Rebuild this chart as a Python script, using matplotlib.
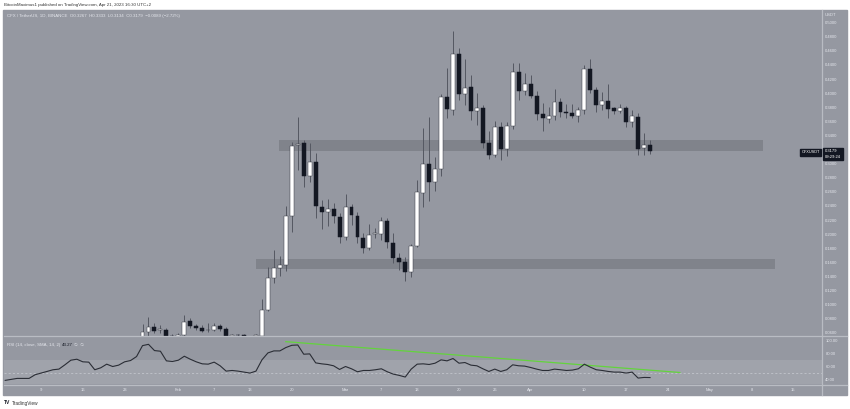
import matplotlib
matplotlib.use('Agg')
import matplotlib.pyplot as plt
import numpy as np
from matplotlib.patches import Rectangle
from matplotlib.lines import Line2D

plt.rcParams['font.family'] = ['Liberation Sans', 'DejaVu Sans']

# ---------------- data (day index: 0 = Jan 1, 2023) ----------------
days = list(range(25, 111))
opens = [0.0530, 0.0609, 0.0688, 0.0640, 0.0641, 0.0556, 0.0540, 0.0570, 0.0769, 0.0698,
         0.0674, 0.0638, 0.0641, 0.0702, 0.0651, 0.0560, 0.0572, 0.0570, 0.0540, 0.0550,
         0.0560, 0.0925, 0.1375, 0.1525, 0.1563, 0.2263, 0.3265, 0.3289, 0.2826, 0.3028,
         0.2390, 0.2311, 0.2358, 0.2248, 0.1956, 0.2390, 0.2263, 0.1950, 0.1800, 0.2005,
         0.1999, 0.2192, 0.1880, 0.1658, 0.1602, 0.1468, 0.1833, 0.2589, 0.2996, 0.2736,
         0.2925, 0.3950, 0.3763, 0.4552, 0.3988, 0.4084, 0.3748, 0.3786, 0.3298, 0.3124,
         0.3516, 0.3204, 0.3539, 0.4297, 0.4036, 0.4126, 0.3960, 0.3705, 0.3634, 0.3681,
         0.3879, 0.3738, 0.3724, 0.3681, 0.3762, 0.4343, 0.4045, 0.3833, 0.3894, 0.3786,
         0.3752, 0.3786, 0.3596, 0.3667, 0.3218, 0.3267]
highs = [0.0726, 0.0826, 0.0745, 0.0712, 0.0665, 0.0584, 0.0599, 0.0854, 0.0807, 0.0722,
         0.0712, 0.0736, 0.0736, 0.0726, 0.0677, 0.0584, 0.0590, 0.0585, 0.0550, 0.0580,
         0.1081, 0.1539, 0.1776, 0.1691, 0.2400, 0.3312, 0.3667, 0.3336, 0.3298, 0.3148,
         0.2485, 0.2495, 0.2447, 0.2301, 0.2570, 0.2428, 0.2315, 0.2013, 0.2145, 0.2084,
         0.2248, 0.2230, 0.2013, 0.1729, 0.1681, 0.1861, 0.2769, 0.3511, 0.3667, 0.3099,
         0.3989, 0.4353, 0.4882, 0.4637, 0.4481, 0.4258, 0.4000, 0.3833, 0.3464, 0.3606,
         0.3592, 0.3596, 0.4433, 0.4433, 0.4282, 0.4258, 0.4036, 0.3857, 0.3809, 0.4060,
         0.3936, 0.3847, 0.3847, 0.3809, 0.4400, 0.4481, 0.4092, 0.4013, 0.4131, 0.3809,
         0.3843, 0.3820, 0.3762, 0.3719, 0.3440, 0.3333]
lows = [0.0500, 0.0542, 0.0599, 0.0595, 0.0530, 0.0520, 0.0520, 0.0556, 0.0674, 0.0641,
        0.0613, 0.0609, 0.0627, 0.0634, 0.0520, 0.0530, 0.0540, 0.0530, 0.0500, 0.0520,
        0.0540, 0.0911, 0.1308, 0.1411, 0.1482, 0.2036, 0.2911, 0.2674, 0.2745, 0.2226,
        0.2070, 0.2121, 0.2163, 0.1880, 0.1918, 0.2131, 0.1880, 0.1729, 0.1776, 0.1942,
        0.1918, 0.1809, 0.1587, 0.1492, 0.1336, 0.1397, 0.1819, 0.2390, 0.2471, 0.2617,
        0.2826, 0.3644, 0.3691, 0.3904, 0.3833, 0.3620, 0.3549, 0.3219, 0.3062, 0.3091,
        0.3053, 0.3109, 0.3488, 0.3904, 0.3975, 0.3928, 0.3620, 0.3468, 0.3573, 0.3620,
        0.3667, 0.3644, 0.3648, 0.3596, 0.3701, 0.3996, 0.3738, 0.3762, 0.3653, 0.3705,
        0.3715, 0.3525, 0.3525, 0.3124, 0.3124, 0.3134]
closes = [0.0613, 0.0688, 0.0631, 0.0643, 0.0556, 0.0550, 0.0570, 0.0759, 0.0702, 0.0665,
          0.0631, 0.0642, 0.0702, 0.0651, 0.0556, 0.0570, 0.0565, 0.0560, 0.0535, 0.0565,
          0.0925, 0.1375, 0.1516, 0.1563, 0.2263, 0.3255, 0.3282, 0.2826, 0.3028, 0.2404,
          0.2311, 0.2358, 0.2258, 0.1956, 0.2390, 0.2272, 0.1956, 0.1800, 0.1989, 0.2013,
          0.2192, 0.1885, 0.1667, 0.1602, 0.1468, 0.1833, 0.2594, 0.2996, 0.2736, 0.2925,
          0.3950, 0.3772, 0.4552, 0.3984, 0.4078, 0.3752, 0.3786, 0.3298, 0.3124, 0.3516,
          0.3204, 0.3539, 0.4297, 0.4036, 0.4126, 0.3960, 0.3705, 0.3644, 0.3681, 0.3879,
          0.3729, 0.3715, 0.3681, 0.3762, 0.4343, 0.4045, 0.3833, 0.3894, 0.3776, 0.3752,
          0.3786, 0.3596, 0.3677, 0.3209, 0.3267, 0.3179]

rsi_start_day = 2
rsi = [39.0, 40.5, 42.0, 42.0, 42.0, 47.6, 50.2, 52.7, 55.3, 56.3,
       62.9, 70.0, 71.5, 67.5, 67.0, 55.3, 58.3, 63.9, 60.3, 62.4,
       67.5, 69.5, 75.6, 92.4, 94.4, 84.8, 83.8, 69.0, 68.0, 70.0,
       76.1, 71.5, 67.5, 64.4, 63.9, 67.0, 61.4, 53.2, 54.2, 53.2,
       51.7, 50.2, 53.2, 70.5, 81.2, 84.3, 84.3, 89.4, 92.9, 93.4,
       79.2, 79.7, 65.9, 64.4, 63.4, 61.4, 55.8, 60.3, 56.8, 52.2,
       54.2, 54.2, 55.3, 56.8, 52.2, 48.6, 46.6, 44.1, 56.3, 63.9,
       64.4, 63.4, 65.4, 70.5, 69.0, 72.6, 65.4, 66.4, 62.4, 61.4,
       56.8, 52.7, 56.3, 52.7, 55.3, 62.9, 61.4, 60.9, 58.8, 56.3,
       54.2, 54.2, 56.3, 55.3, 54.2, 54.8, 56.8, 63.9, 59.3, 55.3,
       54.2, 52.7, 51.7, 51.7, 50.2, 51.7, 42.5, 43.5, 43.3]

# horizontal zones: (start day, end day, low price, high price)
zone_upper = (47.9, 128.9, 0.318, 0.334)
zone_lower = (44.0, 131.0, 0.150, 0.165)
# RSI descending trendline: (day, value) pairs
rsi_trend_days = [49.0, 115.0]
rsi_trend_vals = [98.5, 51.1]

tick_days = [8, 15, 22, 31, 37, 43, 50, 59, 65, 71, 78, 84, 90, 99, 106, 113, 120, 127, 134]
tick_labels = ['9', '16', '23', 'Feb', '7', '13', '20', 'Mar', '7', '13', '20', '26',
               'Apr', '10', '17', '24', 'May', '8', '15']
price_ticks = [round(0.06 + 0.02 * i, 2) for i in range(23)]
rsi_ticks = [40, 60, 80, 100]

# ---------------- style ----------------
W, H = 850, 409
BG = '#9598a1'
ZONE = '#80838b'
BAND = '#a0a3ab'
SEP = '#b9bcc3'
LIGHT = '#e4e6ec'
DARK = '#131722'
WICK = '#555862'
XMIN, XMAX = 1.8, 138.8

fig = plt.figure(figsize=(8.5, 4.09), dpi=100)
fig.patch.set_facecolor('white')

def fx(px):
    return px / W

def fy(py):
    return 1 - py / H

fig.patches.append(Rectangle((fx(3), fy(395)), fx(847) - fx(3), fy(10) - fy(395),
                             transform=fig.transFigure, color=BG, zorder=-10))

# price pane
ax = fig.add_axes([fx(4), fy(336), fx(822) - fx(4), fy(10) - fy(336)])
ax.patch.set_alpha(0)
for s in ax.spines.values():
    s.set_visible(False)
ax.set_xlim(XMIN, XMAX)
ax.set_ylim(0.0556, 0.518)

for (x0, x1, y0, y1) in (zone_upper, zone_lower):
    ax.add_patch(Rectangle((x0, y0), x1 - x0, y1 - y0, color=ZONE, zorder=1, lw=0))

d = np.array(days, dtype=float)
o = np.array(opens); hi = np.array(highs); lo = np.array(lows); c = np.array(closes)
up = c >= o
body_lo = np.minimum(o, c)
body_h = np.maximum(np.abs(c - o), 0.0010)
ax.vlines(d, lo, hi, color=WICK, lw=0.7, zorder=2)
ax.bar(d[up], body_h[up], bottom=body_lo[up], width=0.66, color='white',
       edgecolor='#3a3d46', linewidth=0.35, zorder=3)
ax.bar(d[~up], body_h[~up], bottom=body_lo[~up], width=0.66, color=DARK,
       edgecolor=DARK, linewidth=0.35, zorder=3)

ax.set_xticks([])
ax.yaxis.tick_right()
ax.set_yticks(price_ticks)
ax.set_yticklabels([f'{v:.4f}' for v in price_ticks])
ax.tick_params(axis='y', length=0, pad=2.4, labelsize=3.0, labelcolor=LIGHT)

# RSI pane
ar = fig.add_axes([fx(4), fy(384), fx(822) - fx(4), fy(336) - fy(384)])
ar.patch.set_alpha(0)
for s in ar.spines.values():
    s.set_visible(False)
ar.set_xlim(XMIN, XMAX)
ar.set_ylim(33.4, 107.2)
ar.axhspan(30, 70, color=BAND, lw=0, zorder=0)
ar.axhline(50, color='#c2c5cc', lw=0.6, ls=(0, (2.5, 2.5)), zorder=1)
rd = np.arange(rsi_start_day, rsi_start_day + len(rsi))
ar.plot(rd, rsi, color='#2a2d35', lw=0.8, zorder=3)
ar.plot(rsi_trend_days, rsi_trend_vals, color='#63d43c', lw=0.9, zorder=2)
ar.yaxis.tick_right()
ar.set_yticks(rsi_ticks)
ar.set_yticklabels([f'{v:.2f}' for v in rsi_ticks])
ar.tick_params(axis='y', length=0, pad=2.4, labelsize=3.0, labelcolor=LIGHT)
ar.set_xticks(tick_days)
ar.set_xticklabels(tick_labels)
ar.tick_params(axis='x', length=0, pad=3.0, labelsize=3.0, labelcolor=LIGHT)

# separators
fig.add_artist(Line2D([fx(4), fx(847)], [fy(336), fy(336)], color=SEP, lw=0.9))
fig.add_artist(Line2D([fx(4), fx(847)], [fy(384.5), fy(384.5)], color=SEP, lw=0.9))
fig.add_artist(Line2D([fx(822), fx(822)], [fy(10), fy(395)], color=SEP, lw=0.9))

# texts
fig.text(fx(4), fy(5), 'BitcoinMaximus1 published on TradingView.com, Apr 21, 2023 16:30 UTC+2',
         fontsize=3.2, color='#333333', va='center')
fig.text(fx(7), fy(15.5), 'CFX / TetherUS, 1D, BINANCE  O0.3267  H0.3333  L0.3134  C0.3179  \u22120.0089 (\u22122.72%)',
         fontsize=3.2, color=LIGHT, va='center')
fig.text(fx(825), fy(15), 'USDT', fontsize=3.0, color=LIGHT, va='center')
fig.text(fx(7), fy(345), 'RSI (14, close, SMA, 14, 2)', fontsize=3.2, color=LIGHT, va='center')
fig.text(fx(62), fy(345), '43.27', fontsize=3.2, color=DARK, va='center')
fig.text(fx(74), fy(345), '\u2205  \u2205', fontsize=3.2, color=LIGHT, va='center')

# current price label
fig.patches.append(Rectangle((fx(822.5), fy(160)), fx(843) - fx(822.5), fy(148) - fy(160),
                             transform=fig.transFigure, color=DARK, zorder=5))
fig.text(fx(825), fy(151.5), '0.3179', fontsize=3.0, color='white', va='center', zorder=6)
fig.text(fx(825), fy(157), '09:29:24', fontsize=3.0, color='white', va='center', zorder=6)
fig.patches.append(Rectangle((fx(800), fy(155.5)), fx(821) - fx(800), fy(148.5) - fy(155.5),
                             transform=fig.transFigure, color=DARK, zorder=5))
fig.text(fx(801.5), fy(152), 'CFXUSDT', fontsize=2.8, color='white', va='center', zorder=6)

# footer logo
fig.text(fx(4), fy(403), 'TV', fontsize=3.6, color='#131722', va='center', fontweight='bold')
fig.text(fx(12), fy(403), 'TradingView', fontsize=3.4, color='#333333', va='center')

fig.savefig('out.png', dpi=100, facecolor='white')
